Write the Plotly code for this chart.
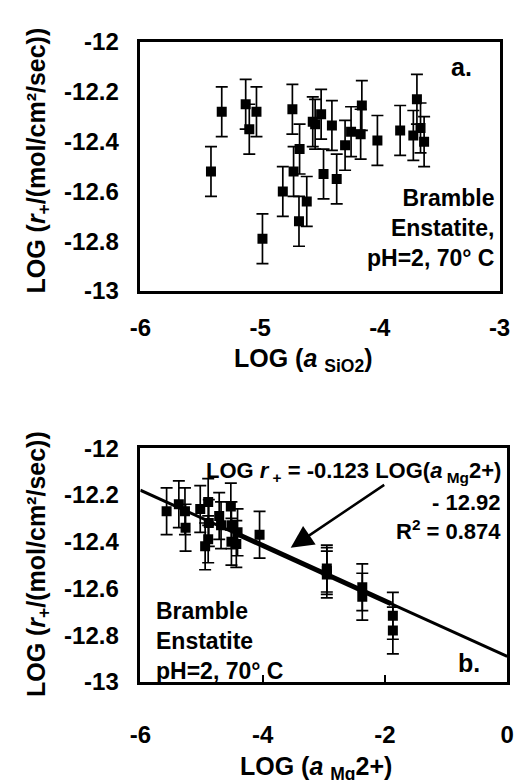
import plotly.graph_objects as go

# ---------------- data ----------------
# Panel a: LOG(a_SiO2) vs LOG rate
top_x = [-5.41, -5.32, -5.12, -5.09, -5.03, -4.98, -4.81, -4.73, -4.72, -4.67,
         -4.675, -4.61, -4.56, -4.54, -4.49, -4.47, -4.40, -4.36, -4.29, -4.24,
         -4.16, -4.15, -4.02, -3.83, -3.72, -3.69, -3.66, -3.63]
top_y = [-12.52, -12.28, -12.25, -12.35, -12.28, -12.79, -12.60, -12.27, -12.52, -12.43,
         -12.72, -12.64, -12.32, -12.33, -12.29, -12.53, -12.335, -12.55, -12.415, -12.36,
         -12.37, -12.255, -12.395, -12.355, -12.375, -12.23, -12.345, -12.40]
top_err = [0.1] * len(top_x)

# Panel b: LOG(a_Mg2+) vs LOG rate
bot_x = [-5.57, -5.37, -5.27, -5.26, -5.02, -4.89, -4.88, -4.89, -4.94, -4.71,
         -4.68, -4.52, -4.51, -4.51, -4.43, -4.41, -4.05, -2.95, -2.95, -2.95,
         -2.37, -2.37, -1.87, -1.87]
bot_y = [-12.27, -12.24, -12.27, -12.34, -12.26, -12.23, -12.32, -12.39, -12.42, -12.29,
         -12.33, -12.25, -12.33, -12.40, -12.41, -12.36, -12.37, -12.515, -12.525, -12.54,
         -12.595, -12.635, -12.717, -12.78]
bot_err = [0.1] * len(bot_x)

# regression line (LOG r+ = -0.123 LOG(a_Mg2+) - 12.92) as drawn
fit_x = [-6.0, 0.0]
fit_y = [-12.18, -12.89]
fit_thick_x = [-4.45, -1.9]
fit_thick_y = [-12.363, -12.665]

top_xticks = [-6, -5, -4, -3]
top_xticktext = ["-6", "-5", "-4", "-3"]
bot_xticks = [-6, -4, -2, 0]
bot_xticktext = ["-6", "-4", "-2", "0"]
yticks = [-13, -12.8, -12.6, -12.4, -12.2, -12]
yticktext = ["-13", "-12.8", "-12.6", "-12.4", "-12.2", "-12"]

# ---------------- layout helpers ----------------
W, H = 523, 780
FONT = "Liberation Sans, Arial, Helvetica, sans-serif"


def px(x, y):
    return x / W, 1 - y / H


def bold(labels):
    return ["<b>%s</b>" % t for t in labels]


fig = go.Figure()

marker = dict(symbol="square", size=10, color="black")

fig.add_trace(go.Scatter(
    x=top_x, y=top_y, mode="markers", marker=marker,
    error_y=dict(type="data", array=top_err, visible=True, color="black",
                 thickness=1.7, width=6),
    xaxis="x", yaxis="y", showlegend=False))

fig.add_trace(go.Scatter(
    x=fit_x, y=fit_y, mode="lines", line=dict(color="black", width=3),
    xaxis="x2", yaxis="y2", showlegend=False))
fig.add_trace(go.Scatter(
    x=fit_thick_x, y=fit_thick_y, mode="lines", line=dict(color="black", width=5),
    xaxis="x2", yaxis="y2", showlegend=False))

fig.add_trace(go.Scatter(
    x=bot_x, y=bot_y, mode="markers", marker=marker,
    error_y=dict(type="data", array=bot_err, visible=True, color="black",
                 thickness=1.7, width=6),
    xaxis="x2", yaxis="y2", showlegend=False))

tickfont = dict(family=FONT, size=24, color="black", weight="bold")

axis_common = dict(showline=True, linecolor="black", linewidth=2.5, mirror=True,
                   showgrid=False, zeroline=False, tickfont=tickfont)

fig.update_layout(
    width=W, height=H,
    margin=dict(l=0, r=0, t=0, b=0),
    paper_bgcolor="white", plot_bgcolor="white",
    font=dict(family=FONT, color="black"),
    xaxis=dict(domain=[135 / W, 510 / W], range=[-6, -3], anchor="y",
               tickmode="array", tickvals=top_xticks, ticktext=bold(top_xticktext),
               ticks="", ticklabelstandoff=13, **axis_common),
    yaxis=dict(domain=[1 - 287 / H, 1 - 29 / H], range=[-13, -12], anchor="x",
               tickmode="array", tickvals=yticks, ticktext=bold(yticktext),
               ticks="", ticklabelstandoff=14, **axis_common),
    xaxis2=dict(domain=[135 / W, 518 / W], range=[-6, 0], anchor="y2",
                tickmode="array", tickvals=bot_xticks, ticktext=bold(bot_xticktext),
                ticks="inside", ticklen=7, tickwidth=1.5, tickcolor="black",
                ticklabelstandoff=29, **axis_common),
    yaxis2=dict(domain=[1 - 692 / H, 1 - 449.7 / H], range=[-13, -12], anchor="x2",
                tickmode="array", tickvals=yticks, ticktext=bold(yticktext),
                ticks="", ticklabelstandoff=14, **axis_common),
)

ann = []


def text_ann(text, x, y, size, xanchor="center", yanchor="middle", align="center", angle=0):
    ax_, ay_ = px(x, y)
    ann.append(dict(text="<b>%s</b>" % text, x=ax_, y=ay_, xref="paper", yref="paper",
                    xanchor=xanchor, yanchor=yanchor, align=align, textangle=angle,
                    showarrow=False,
                    font=dict(family=FONT, size=size, color="black", weight="bold")))


ytitle = "LOG (<i>r</i><sub>+</sub>/(mol/cm²/sec))"
text_ann(ytitle, 28, 152, 25, angle=-90)
text_ann(ytitle, 28, 570, 25, angle=-90)
text_ann("LOG (<i>a</i> <sub>SiO2</sub>)", 305, 358, 25)
text_ann("LOG (<i>a</i> <sub>Mg</sub>2+)", 318, 781, 25)

text_ann("a.", 470, 55, 25)
text_ann("Bramble<br>Enstatite,<br>pH=2, 70° C", 506, 222, 23,
         xanchor="right", align="right")

text_ann("LOG <i>r</i><sub> +</sub> = -0.123 LOG(<i>a</i><sub> Mg</sub>2+)", 514, 474, 22,
         xanchor="right", align="right")
text_ann("- 12.92", 514, 506, 22, xanchor="right", align="right")
text_ann("R<sup>2</sup> = 0.874", 514, 535, 22, xanchor="right", align="right")
text_ann("Bramble<br>Enstatite<br>pH=2, 70° C", 149, 649, 23,
         xanchor="left", align="left")
text_ann("b.", 478, 672, 25)

# arrow pointing to the regression line
tipx, tipy = px(292, 553)
ann.append(dict(text="", x=tipx, y=tipy, xref="paper", yref="paper",
                showarrow=True, ax=95, ay=-64, axref="pixel", ayref="pixel",
                arrowhead=2, arrowsize=1.8, arrowwidth=2.5, arrowcolor="black"))

fig.update_layout(annotations=ann)

fig.write_html("out.html")
